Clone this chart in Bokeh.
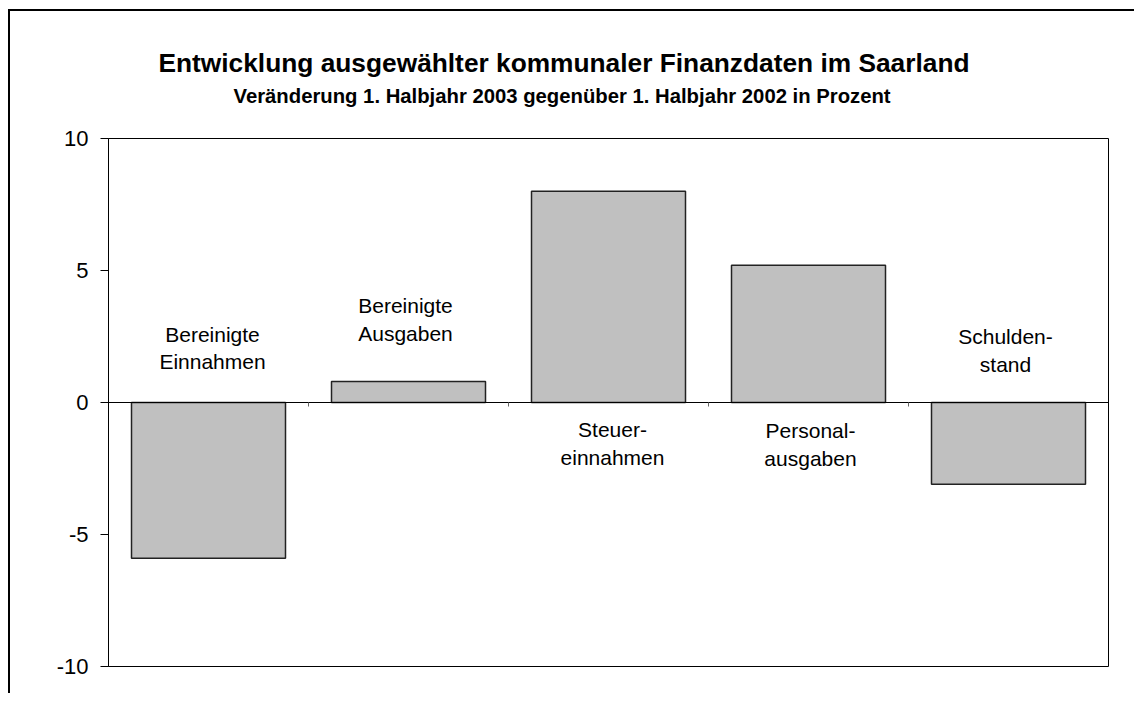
from bokeh.plotting import figure
from bokeh.models import Range1d, FixedTicker, Title, PrintfTickFormatter
from bokeh.core.properties import value
from bokeh.embed import file_html
from bokeh.resources import INLINE

# ---- data ----
categories = ["Bereinigte\nEinnahmen", "Bereinigte\nAusgaben", "Steuer-\neinnahmen",
              "Personal-\nausgaben", "Schulden-\nstand"]
values = [-5.9, 0.8, 8.0, 5.2, -3.1]
y_ticks = [-10, -5, 0, 5, 10]
title_text = "Entwicklung ausgewählter kommunaler Finanzdaten im Saarland"
subtitle_text = "Veränderung 1. Halbjahr 2003 gegenüber 1. Halbjahr 2002 in Prozent"

# ---- layout of captions (data units / pixel offsets) ----
label_y = [2.07, 3.15, -1.55, -1.59, 1.97]
label_dx = [4, -3, 4, 2, -3]

idx = list(range(len(values)))
FONT = "Liberation Sans"

p = figure(width=1126, height=684,
           x_range=Range1d(-0.5, len(values) - 0.5), y_range=Range1d(-10, 10),
           output_backend="svg", toolbar_location=None,
           min_border_left=98, min_border_right=28,
           min_border_top=127, min_border_bottom=29,
           styles={"border-left": "2px solid black", "border-top": "2px solid black",
                   "margin-top": "9px", "margin-left": "8px"})

p.xgrid.visible = False
p.ygrid.visible = False
p.outline_line_color = "black"
p.outline_line_width = 1
p.background_fill_color = "white"
p.border_fill_color = "white"

p.vbar(x=idx, top=values, bottom=0, width=0.77,
       fill_color="#C0C0C0", line_color="#222222", line_width=1.5)

# y axis
p.yaxis.ticker = FixedTicker(ticks=y_ticks)
p.yaxis.formatter = PrintfTickFormatter(format="%d")
p.yaxis.major_tick_out = 8
p.yaxis.major_tick_in = 0
p.yaxis.minor_tick_line_color = None
p.yaxis.axis_line_color = "black"
p.yaxis.major_tick_line_color = "black"
p.yaxis.major_label_text_font = FONT
p.yaxis.major_label_text_font_size = "22px"
p.yaxis.major_label_text_color = "black"
p.yaxis.major_label_standoff = 12

# x axis as zero line with category separators
p.xaxis.fixed_location = 0
p.xaxis.ticker = FixedTicker(ticks=[i + 0.5 for i in idx[:-1]])
p.xaxis.major_tick_out = 4
p.xaxis.major_tick_in = 0
p.xaxis.minor_tick_line_color = None
p.xaxis.major_tick_line_color = "#666666"
p.xaxis.axis_line_color = "black"
p.xaxis.major_label_text_color = None
p.xaxis.major_label_text_font_size = "1px"

p.text(x=idx, y=label_y, text=categories, x_offset=label_dx,
       text_align="center", text_baseline="middle",
       text_font=value(FONT), text_font_size="21px", text_color="black",
       text_line_height=1.2)

# titles stacked above the frame (first added = closest to frame)
p.add_layout(Title(text=" ", text_font_size="10px", standoff=19), "above")
p.add_layout(Title(text=subtitle_text, align="left", offset=125, standoff=0,
                   text_font=FONT, text_font_style="bold", text_font_size="20.3px",
                   text_color="black"), "above")
p.add_layout(Title(text=title_text, align="left", offset=50, standoff=9,
                   text_font=FONT, text_font_style="bold", text_font_size="26.3px",
                   text_color="black"), "above")

open("out.html", "w").write(file_html(p, INLINE))
